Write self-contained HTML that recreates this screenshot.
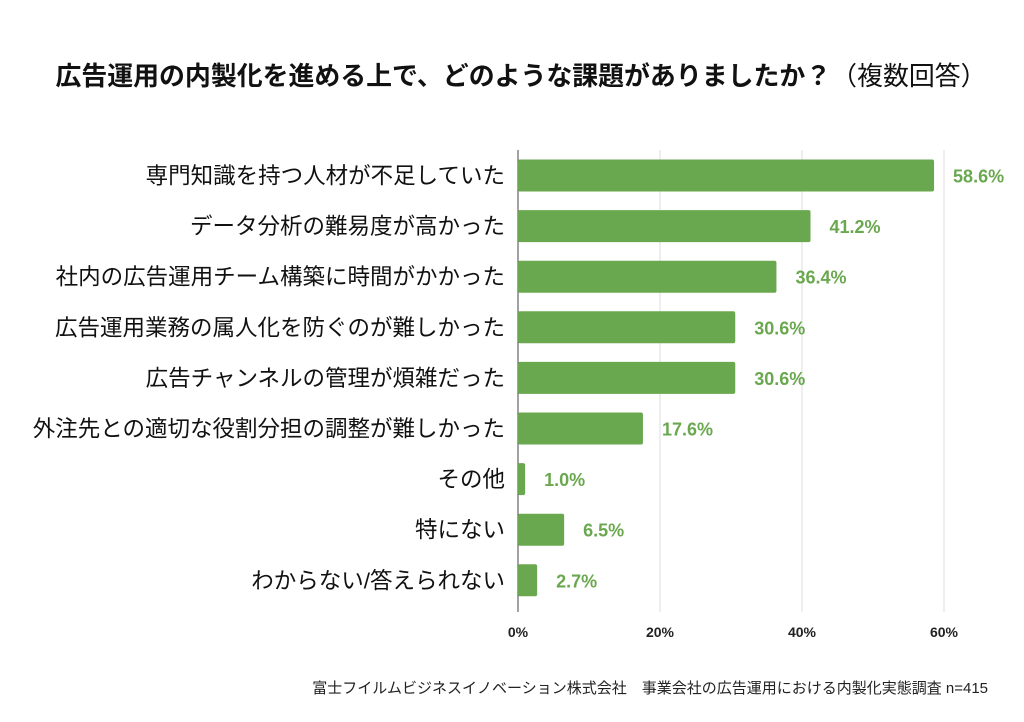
<!DOCTYPE html>
<html><head><meta charset="utf-8">
<style>
body{margin:0;background:#fff;font-family:"Liberation Sans","Noto Sans CJK JP",sans-serif;}
svg text{font-family:"Liberation Sans","Noto Sans CJK JP",sans-serif;}
</style></head>
<body>
<svg id="chart" width="1024" height="717" viewBox="0 0 1024 717">
<text x="521" y="85" text-anchor="middle" font-size="25.9" font-weight="bold" fill="#111">広告運用の内製化を進める上で、どのような課題がありましたか？<tspan font-weight="normal">（複数回答）</tspan></text>
<g id="grid"></g>
<g id="bars"></g>
<text x="988" y="693" text-anchor="end" font-size="15" fill="#222">富士フイルムビジネスイノベーション株式会社　事業会社の広告運用における内製化実態調査 n=415</text>
</svg>
<script>
const categories=["専門知識を持つ人材が不足していた","データ分析の難易度が高かった","社内の広告運用チーム構築に時間がかかった","広告運用業務の属人化を防ぐのが難しかった","広告チャンネルの管理が煩雑だった","外注先との適切な役割分担の調整が難しかった","その他","特にない","わからない/答えられない"];
const values=[58.6,41.2,36.4,30.6,30.6,17.6,1.0,6.5,2.7];
const ticks=[0,20,40,60];
const NS="http://www.w3.org/2000/svg";
const x0=518,pxPer=(944-518)/60,yTop=150,yBot=612,step=50.6,firstY=175.5,bh=32;
const xs=v=>x0+v*pxPer;
const ys=i=>firstY+i*step;
function mk(t,a,p){const e=document.createElementNS(NS,t);for(const k in a)e.setAttribute(k,a[k]);p.appendChild(e);return e;}
const grid=document.getElementById('grid'),bars=document.getElementById('bars');
ticks.forEach(t=>{
 const l=mk('line',{x1:xs(t),x2:xs(t),y1:yTop,y2:yBot,stroke:t===0?'#444':'#ddd','stroke-width':1},grid);
 
 
 const tx=mk('text',{x:xs(t),y:637,'text-anchor':'middle','font-size':14,'font-weight':'bold',fill:'#222'},grid);
 tx.textContent=t+'%';
 
 
});
categories.forEach((c,i)=>{
 const y=ys(i);
 const lb=mk('text',{x:505,y:y+8,'text-anchor':'end','font-size':22.5,fill:'#111'},bars);
 lb.textContent=c;
 
 
 const r=mk('rect',{x:x0,y:y-bh/2,width:xs(values[i])-x0,height:bh,rx:2,fill:'#6aa84f'},bars);
 
 
 const v=mk('text',{x:xs(values[i])+19,y:y+7,'font-size':18,'font-weight':'bold',fill:'#6aa84f'},bars);
 v.textContent=values[i].toFixed(1)+'%';
 
 
});
</script>
</body></html>
